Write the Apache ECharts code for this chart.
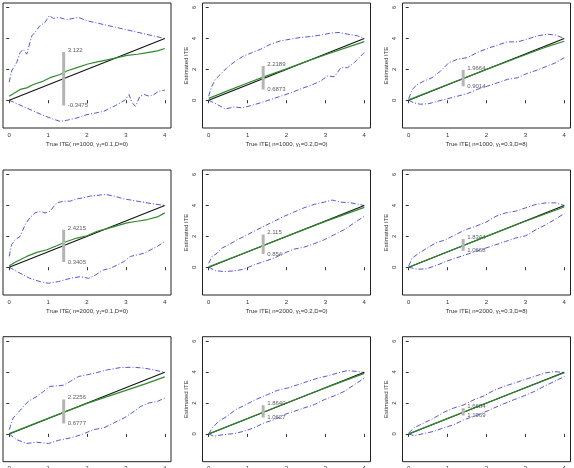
<!DOCTYPE html>
<html>
<head>
<meta charset="utf-8">
<script src="https://cdn.jsdelivr.net/npm/echarts@6/dist/echarts.min.js"></script>
<style>
  html, body { margin: 0; padding: 0; background: #fff; }
  #chart { width: 574px; height: 468px; }
</style>
</head>
<body>
<div id="chart"></div>
<script>
// axis labels of the nine panels
const xNames = [
  'True ITE( n=1000, γ₁=0.1,D=0)', 'True ITE( n=1000, γ₁=0.2,D=0)', 'True ITE( n=1000, γ₁=0.3,D=8)',
  'True ITE( n=2000, γ₁=0.1,D=0)', 'True ITE( n=2000, γ₁=0.2,D=0)', 'True ITE( n=2000, γ₁=0.3,D=8)',
  'True ITE( n=5000, γ₁=0.1,D=0)', 'True ITE( n=5000, γ₁=0.2,D=0)', 'True ITE( n=5000, γ₁=0.3,D=8)'
];
const xTicks = [0, 1, 2, 3, 4];
const yTicks = [0, 2, 4, 6];

// interval at true ITE = 1.4 (grey bar + numbers)
const barX = 1.4;
const barHi = [3.122, 2.2189, 1.9664, 2.4215, 2.115, 1.8344, 2.2256, 1.8640, 1.6684];
const barLo = [-0.3475, 0.6873, 0.9014, 0.3405, 0.854, 1.0668, 0.6777, 1.0627, 1.1969];
const hiText = ['3.122', '2.2189', '1.9664', '2.4215', '2.115', '1.8344', '2.2256', '1.8640', '1.6684'];
const loText = ['-0.3475', '0.6873', '0.9014', '0.3405', '0.854', '1.0668', '0.6777', '1.0627', '1.1969'];

// identity line
const identity = [[0, 0], [4, 4]];

// upper quantile curves
const up1 = [[0,1.17],[0.06,1.89],[0.19,2.43],[0.28,3.09],[0.36,3.3],[0.45,2.98],[0.58,4.17],[0.66,4.39],[0.79,4.83],[0.92,5.04],[1.03,5.48],[1.14,5.3],[1.27,5.37],[1.48,5.22],[1.78,5.37],[2.0,5.15],[4,4.0]];
const up2 = [[0,0.26],[0.06,0.8],[0.17,1.35],[0.3,1.67],[0.47,2.11],[0.69,2.54],[0.9,2.87],[1.12,3.09],[1.33,3.3],[1.59,3.63],[1.85,3.85],[2.11,3.96],[2.37,4.07],[2.62,4.13],[2.88,4.22],[3.14,4.35],[3.35,4.39],[3.57,4.28],[3.83,4.17],[4,4.0]];
const up3 = [[0,0.09],[0.09,0.7],[0.22,1.02],[0.39,1.24],[0.6,1.46],[0.82,1.89],[1.03,2.43],[1.25,2.65],[1.51,2.76],[1.76,3.09],[2.02,3.35],[2.28,3.57],[2.54,3.78],[2.8,3.78],[3.05,3.96],[3.31,4.17],[3.57,4.28],[3.78,4.22],[4,4.0]];
const up4 = [[0,0.7],[0.06,1.46],[0.15,1.78],[0.28,2.0],[0.41,2.76],[0.53,3.2],[0.66,3.52],[0.79,3.63],[0.92,3.52],[1.05,3.63],[1.22,4.17],[1.4,4.28],[1.57,4.28],[1.74,4.43],[1.91,4.5],[2.09,4.61],[2.26,4.65],[2.47,4.72],[2.69,4.61],[2.95,4.43],[3.29,4.28],[3.64,4.13],[4,4.0]];
const up5 = [[0,0.26],[0.09,0.7],[0.22,0.91],[0.34,1.24],[0.52,1.46],[0.73,1.78],[0.95,2.04],[1.16,2.33],[1.42,2.65],[1.68,2.98],[1.94,3.3],[2.19,3.57],[2.45,3.85],[2.71,4.07],[2.97,4.22],[3.18,4.35],[3.4,4.22],[3.66,4.17],[4,4.0]];
const up6 = [[0,0.09],[0.09,0.59],[0.26,0.91],[0.47,1.24],[0.69,1.57],[0.95,1.78],[1.2,2.11],[1.46,2.43],[1.72,2.65],[1.98,2.91],[2.24,3.3],[2.49,3.52],[2.75,3.63],[3.01,3.85],[3.27,4.07],[3.53,4.17],[3.78,4.17],[4,4.0]];
const up7 = [[0,0.28],[0.1,1.03],[0.28,1.53],[0.49,2.11],[0.71,2.43],[0.88,2.75],[1.05,3.08],[1.27,3.12],[1.4,3.16],[1.57,3.4],[1.78,3.72],[2.0,3.83],[2.26,3.98],[2.52,4.15],[2.86,4.3],[3.21,4.32],[3.47,4.26],[3.72,4.15],[4,3.98]];
const up8 = [[0,0],[0.09,0.39],[0.26,0.82],[0.47,1.14],[0.69,1.57],[0.95,1.89],[1.2,2.22],[1.51,2.54],[1.76,2.82],[2.02,2.97],[2.28,3.18],[2.54,3.4],[2.8,3.61],[3.05,3.76],[3.31,3.94],[3.57,4.11],[3.83,4.04],[4,3.98]];
const up9 = [[0,0.06],[0.13,0.39],[0.39,0.71],[0.65,1.03],[0.9,1.4],[1.16,1.68],[1.42,1.89],[1.68,2.22],[1.94,2.47],[2.19,2.82],[2.45,3.08],[2.71,3.29],[2.97,3.51],[3.23,3.72],[3.48,3.94],[3.74,4.04],[4,3.98]];

// lower quantile curves
const lo1 = [[0,0],[0.4,-0.45],[0.8,-0.9],[1.1,-1.2],[1.31,-1.37],[1.48,-1.3],[1.74,-1.15],[2.0,-0.93],[2.22,-0.83],[2.43,-0.72],[2.6,-0.5],[2.73,-0.35],[2.86,-0.17],[2.99,0.04],[3.08,0.37],[3.16,-0.17],[3.25,-0.39],[3.36,0.26],[3.47,0.37],[3.6,0.26],[3.72,0.37],[3.85,0.59],[4,0.65]];
const lo2 = [[0,0],[0.22,-0.28],[0.43,-0.57],[0.65,-0.43],[0.86,-0.5],[1.08,-0.35],[1.33,-0.17],[1.59,0.04],[1.85,0.26],[2.11,0.48],[2.37,0.74],[2.62,0.96],[2.88,1.24],[3.05,1.57],[3.23,1.52],[3.4,2.11],[3.57,2.11],[3.74,2.43],[3.87,2.76],[4,3.09]];
const lo3 = [[0,0],[0.13,-0.17],[0.3,-0.26],[0.52,-0.22],[0.73,-0.07],[0.99,0.09],[1.25,0.26],[1.51,0.43],[1.76,0.7],[2.02,0.91],[2.28,1.13],[2.54,1.35],[2.8,1.46],[3.05,1.74],[3.31,1.96],[3.57,2.22],[3.78,2.43],[4,2.76]];
const lo4 = [[0,0],[0.28,-0.39],[0.53,-0.72],[0.79,-0.93],[1.01,-1.04],[1.27,-0.93],[1.57,-0.72],[1.83,-0.61],[2.04,-0.72],[2.22,-0.5],[2.43,-0.17],[2.6,-0.07],[2.78,0.15],[2.95,0.37],[3.12,0.7],[3.29,0.8],[3.47,0.91],[3.64,1.13],[3.81,1.35],[4,1.67]];
const lo5 = [[0,0],[0.17,-0.22],[0.39,-0.28],[0.65,-0.24],[0.9,-0.13],[1.16,0.15],[1.42,0.37],[1.68,0.59],[1.94,0.91],[2.19,1.17],[2.45,1.3],[2.71,1.52],[2.97,1.78],[3.23,2.11],[3.48,2.43],[3.74,2.87],[4,3.3]];
const lo6 = [[0,0],[0.22,-0.13],[0.43,-0.11],[0.69,0.09],[0.95,0.37],[1.2,0.59],[1.46,0.8],[1.72,1.02],[1.98,1.24],[2.24,1.46],[2.49,1.67],[2.75,1.89],[3.01,2.04],[3.27,2.43],[3.53,2.76],[3.78,3.13],[4,3.48]];
const lo7 = [[0,0],[0.19,-0.37],[0.45,-0.62],[0.71,-0.54],[1.01,-0.62],[1.27,-0.41],[1.57,-0.26],[1.87,-0.04],[2.17,0.28],[2.43,0.39],[2.69,0.71],[2.95,1.03],[3.21,1.46],[3.38,1.78],[3.59,2.0],[3.81,2.11],[4,2.32]];
const lo8 = [[0,0],[0.13,-0.15],[0.39,-0.04],[0.65,0.02],[0.9,0.17],[1.16,0.39],[1.42,0.71],[1.68,0.92],[1.94,1.25],[2.19,1.46],[2.45,1.68],[2.71,1.89],[2.97,2.22],[3.23,2.47],[3.48,2.75],[3.74,3.18],[4,3.61]];
const lo9 = [[0,0],[0.13,-0.11],[0.39,0.02],[0.65,0.17],[0.9,0.39],[1.16,0.6],[1.42,0.92],[1.68,1.14],[1.94,1.4],[2.19,1.68],[2.45,1.96],[2.71,2.22],[2.97,2.47],[3.23,2.75],[3.48,3.08],[3.74,3.4],[4,3.72]];

// mean estimate curves (green)
const m1 = [[0,0.26],[0.28,0.7],[0.45,0.8],[0.62,1.02],[0.88,1.24],[1.05,1.46],[1.31,1.67],[1.48,1.89],[1.74,2.11],[2.0,2.33],[2.26,2.48],[2.52,2.61],[2.78,2.76],[3.03,2.91],[3.29,2.98],[3.55,3.09],[3.81,3.2],[4,3.35]];
const m2 = [[0,0.12],[0.5,0.62],[1.0,1.12],[1.4,1.5],[2.0,2.03],[2.5,2.5],[3.0,2.95],[3.5,3.38],[4,3.8]];
const m3 = [[0,0.02],[1,1.02],[2,2.0],[3,2.95],[3.5,3.42],[4,3.82]];
const m4 = [[0,0.09],[0.19,0.37],[0.45,0.7],[0.71,0.96],[0.97,1.13],[1.22,1.39],[1.48,1.67],[1.74,1.89],[2.0,2.04],[2.26,2.33],[2.52,2.5],[2.78,2.7],[3.03,2.87],[3.29,2.98],[3.55,3.09],[3.81,3.26],[4,3.52]];
const m5 = [[0,0.02],[1,1.0],[2,2.0],[3,2.97],[4,3.88]];
const m6 = [[0,0],[1,1.0],[2,2.0],[3,2.98],[4,3.9]];
const m7 = [[0,0.02],[1,1.01],[2,1.98],[2.5,2.4],[3,2.82],[3.5,3.24],[4,3.7]];
const m8 = [[0,0],[1,1],[2,2],[3,2.98],[4,3.92]];
const m9 = [[0,0],[2,2],[4,3.96]];

const ups = [up1, up2, up3, up4, up5, up6, up7, up8, up9];
const los = [lo1, lo2, lo3, lo4, lo5, lo6, lo7, lo8, lo9];
const means = [m1, m2, m3, m4, m5, m6, m7, m8, m9];

const colLeft = [3, 202.5, 402.5];
const rowTop = [3, 170, 336.7];
const boxW = 168, boxH = 125;
const font = 'Liberation Sans';

const grids = [], xAxes = [], yAxes = [], series = [];
for (let i = 0; i < 9; i++) {
  const r = Math.floor(i / 3), c = i % 3;
  grids.push({
    left: colLeft[c], top: rowTop[r], width: boxW, height: boxH,
    show: true, borderColor: '#222', borderWidth: 1, backgroundColor: 'transparent',
    containLabel: false, outerBoundsMode: 'none'
  });
  xAxes.push({
    gridIndex: i, type: 'value', min: -0.16, max: 4.16,
    name: xNames[i], nameLocation: 'middle', nameGap: 13,
    nameTextStyle: { fontFamily: font, fontSize: 6, color: '#333' },
    axisLine: { show: false },
    axisTick: { show: true, inside: false, length: 3, customValues: xTicks, lineStyle: { color: '#333' } },
    axisLabel: { show: true, customValues: xTicks, margin: 4, fontFamily: font, fontSize: 6, color: '#333' },
    splitLine: { show: false }
  });
  yAxes.push({
    gridIndex: i, type: 'value', min: -1.8, max: 6.3,
    name: 'Estimated ITE', nameLocation: 'middle', nameGap: 13,
    nameTextStyle: { fontFamily: font, fontSize: 6, color: '#333' },
    axisLine: { show: false },
    axisTick: { show: true, inside: false, length: 3, customValues: yTicks, lineStyle: { color: '#333' } },
    axisLabel: { show: true, customValues: yTicks, rotate: 90, margin: 5, fontFamily: font, fontSize: 6, color: '#333' },
    splitLine: { show: false }
  });
  const blue = { color: '#5656dc', width: 1, type: [5, 2, 1, 2] };
  series.push(
    { type: 'line', xAxisIndex: i, yAxisIndex: i, data: ups[i], symbol: 'none', lineStyle: blue, silent: true },
    { type: 'line', xAxisIndex: i, yAxisIndex: i, data: los[i], symbol: 'none', lineStyle: blue, silent: true },
    { type: 'line', xAxisIndex: i, yAxisIndex: i, data: identity, symbol: 'none', lineStyle: { color: '#111', width: 1.1 }, silent: true },
    { type: 'line', xAxisIndex: i, yAxisIndex: i, data: means[i], symbol: 'none', lineStyle: { color: '#2f8a2f', width: 1.2 }, silent: true },
    { type: 'line', xAxisIndex: i, yAxisIndex: i, data: [[barX, barLo[i]], [barX, barHi[i]]], symbol: 'none', lineStyle: { color: '#b4b4b4', width: 3 }, silent: true },
    {
      type: 'scatter', xAxisIndex: i, yAxisIndex: i, symbolSize: 0, silent: true,
      data: [
        { value: [barX, barHi[i]], label: { formatter: hiText[i], offset: [0, -2] } },
        { value: [barX, barLo[i]], label: { formatter: loText[i], offset: [0, 0] } }
      ],
      label: { show: true, position: 'right', distance: 4, fontFamily: font, fontSize: 6, color: '#333' }
    }
  );
}

const chart = echarts.init(document.getElementById('chart'), null, { renderer: 'canvas' });
chart.setOption({
  animation: false,
  backgroundColor: '#fff',
  grid: grids,
  xAxis: xAxes,
  yAxis: yAxes,
  series: series
});
</script>
</body>
</html>
